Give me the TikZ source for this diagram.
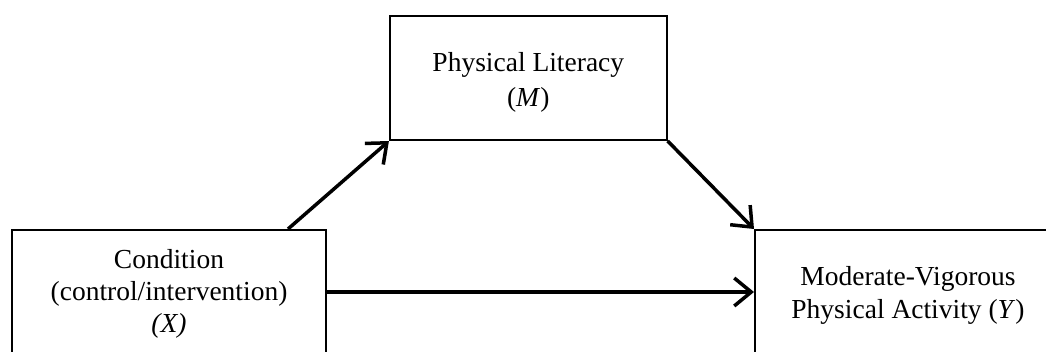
\documentclass[tikz,border=0pt]{standalone}
\usepackage{fontspec}
\setmainfont{Liberation Serif}
\usetikzlibrary{arrows.meta}
\begin{document}
\begin{tikzpicture}[x=1pt,y=-1pt,
  box/.style={draw=black,line width=2pt,rectangle,inner sep=0pt,align=center,
    font=\fontsize{27.5}{32}\selectfont},
  arr/.style={line width=3.5pt,-{Straight Barb[length=17pt,width=28pt,line width=3.5pt]}}]
\useasboundingbox (0,0) rectangle (1046,351);
\clip (0,0) rectangle (1046,351);
\fill[white] (0,0) rectangle (1046,351);
\node[box,minimum width=314,minimum height=124] (X) at (169,292)
  {\rule{0pt}{23pt}Condition\\(control/intervention)\\\textit{(X)}};
\node[box,minimum width=276.7,minimum height=124,font=\fontsize{27.5}{35}\selectfont] (M) at (528.3,78)
  {\rule{0pt}{27pt}Physical Literacy\\(\textit{M})};
\node[box,minimum width=306,minimum height=124,font=\fontsize{27.5}{33}\selectfont] (Y) at (908,292)
  {\rule{0pt}{25pt}Moderate-Vigorous\\Physical Activity (\textit{Y})};
\draw[arr] ([xshift=119pt]X.north) -- (M.south west);
\draw[arr] (M.south east) -- (Y.north west);
\draw[arr] (X.east) -- (Y.west);
\end{tikzpicture}
\end{document}
